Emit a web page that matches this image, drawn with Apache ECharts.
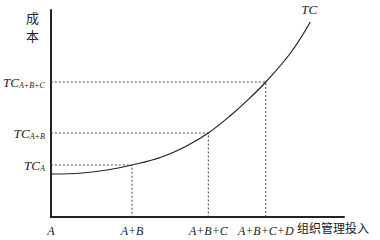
<!DOCTYPE html>
<html><head><meta charset="utf-8">
<script src="https://cdn.jsdelivr.net/npm/echarts@6/dist/echarts.min.js"></script>
<style>html,body{margin:0;padding:0;background:#fff}#c{width:380px;height:240px}</style>
</head><body><div id="c"></div>
<script>
// TC curve (x: organisation management input, y: cost)
const curveX = [1, 32, 57, 82, 112, 137, 159, 182, 202, 217, 242, 262];
const curveY = [43, 44, 47, 52, 60, 71, 84, 102, 120, 135, 164, 195];
// guide points on the curve
const guideX = [82, 159, 217];
const guideY = [52, 84, 135];
// tick positions and labels
const xTickVals = [0, 82, 159, 217];
const xTickLabels = ['A', 'A+B', 'A+B+C', 'A+B+C+D'];
const yTickVals = [52, 84, 135];
const yTickSubs = ['A', 'A+B', 'A+B+C'];
const xName = '组织管理投入';
const yName = '成本';
const curveName = 'TC';

const chart = echarts.init(document.getElementById('c'), null, {renderer: 'svg'});
const serif = '"Liberation Serif","DejaVu Serif",serif';
const series = [{
  type: 'line', name: curveName, smooth: 0.4, symbol: 'none',
  lineStyle: {color: '#222', width: 1.2},
  data: curveX.map((x, i) => [x, curveY[i]]),
  endLabel: {show: true, formatter: curveName, fontFamily: serif, fontStyle: 'italic', fontSize: 13, color: '#222', offset: [-17, -13]}
}];
guideX.forEach((gx, i) => {
  series.push({
    type: 'line', symbol: 'none', silent: true,
    lineStyle: {color: '#333', width: 0.9, type: [2, 2]},
    data: [[0, guideY[i]], [gx, guideY[i]], [gx, 0]]
  });
});
const yNameTexts = yName.split('').map((ch, i) => ({
  type: 'text', left: 26, top: 11 + i * 18,
  style: {text: ch, font: '13px "Noto Sans CJK SC"', fill: '#222'}
}));
chart.setOption({
  animation: false,
  grid: {left: 48, top: 10, width: 296, height: 207},
  xAxis: {
    type: 'value', min: 0, max: 296,
    axisLine: {lineStyle: {color: '#222', width: 2}},
    axisTick: {show: false}, splitLine: {show: false},
    axisLabel: {
      customValues: xTickVals, margin: 8, showMaxLabel: true,
      formatter: v => xTickLabels[xTickVals.indexOf(v)] || '',
      fontFamily: serif, fontStyle: 'italic', fontSize: 12, color: '#222'
    }
  },
  yAxis: {
    type: 'value', min: 0, max: 207,
    axisLine: {show: true, lineStyle: {color: '#222', width: 2}},
    axisTick: {show: false}, splitLine: {show: false},
    axisLabel: {
      customValues: yTickVals, margin: 6,
      formatter: v => '{t|TC}{s|' + (yTickSubs[yTickVals.indexOf(v)] || '') + '}',
      rich: {
        t: {fontFamily: serif, fontStyle: 'italic', fontSize: 13, color: '#222'},
        s: {fontFamily: serif, fontStyle: 'italic', fontSize: 8, color: '#222', padding: [7, 0, 0, 0]}
      }
    }
  },
  graphic: yNameTexts.concat([
    {type: 'text', left: 297, top: 221, style: {text: xName, font: '12px "Noto Sans CJK SC"', fill: '#222'}}
  ]),
  series: series
});
</script></body></html>
